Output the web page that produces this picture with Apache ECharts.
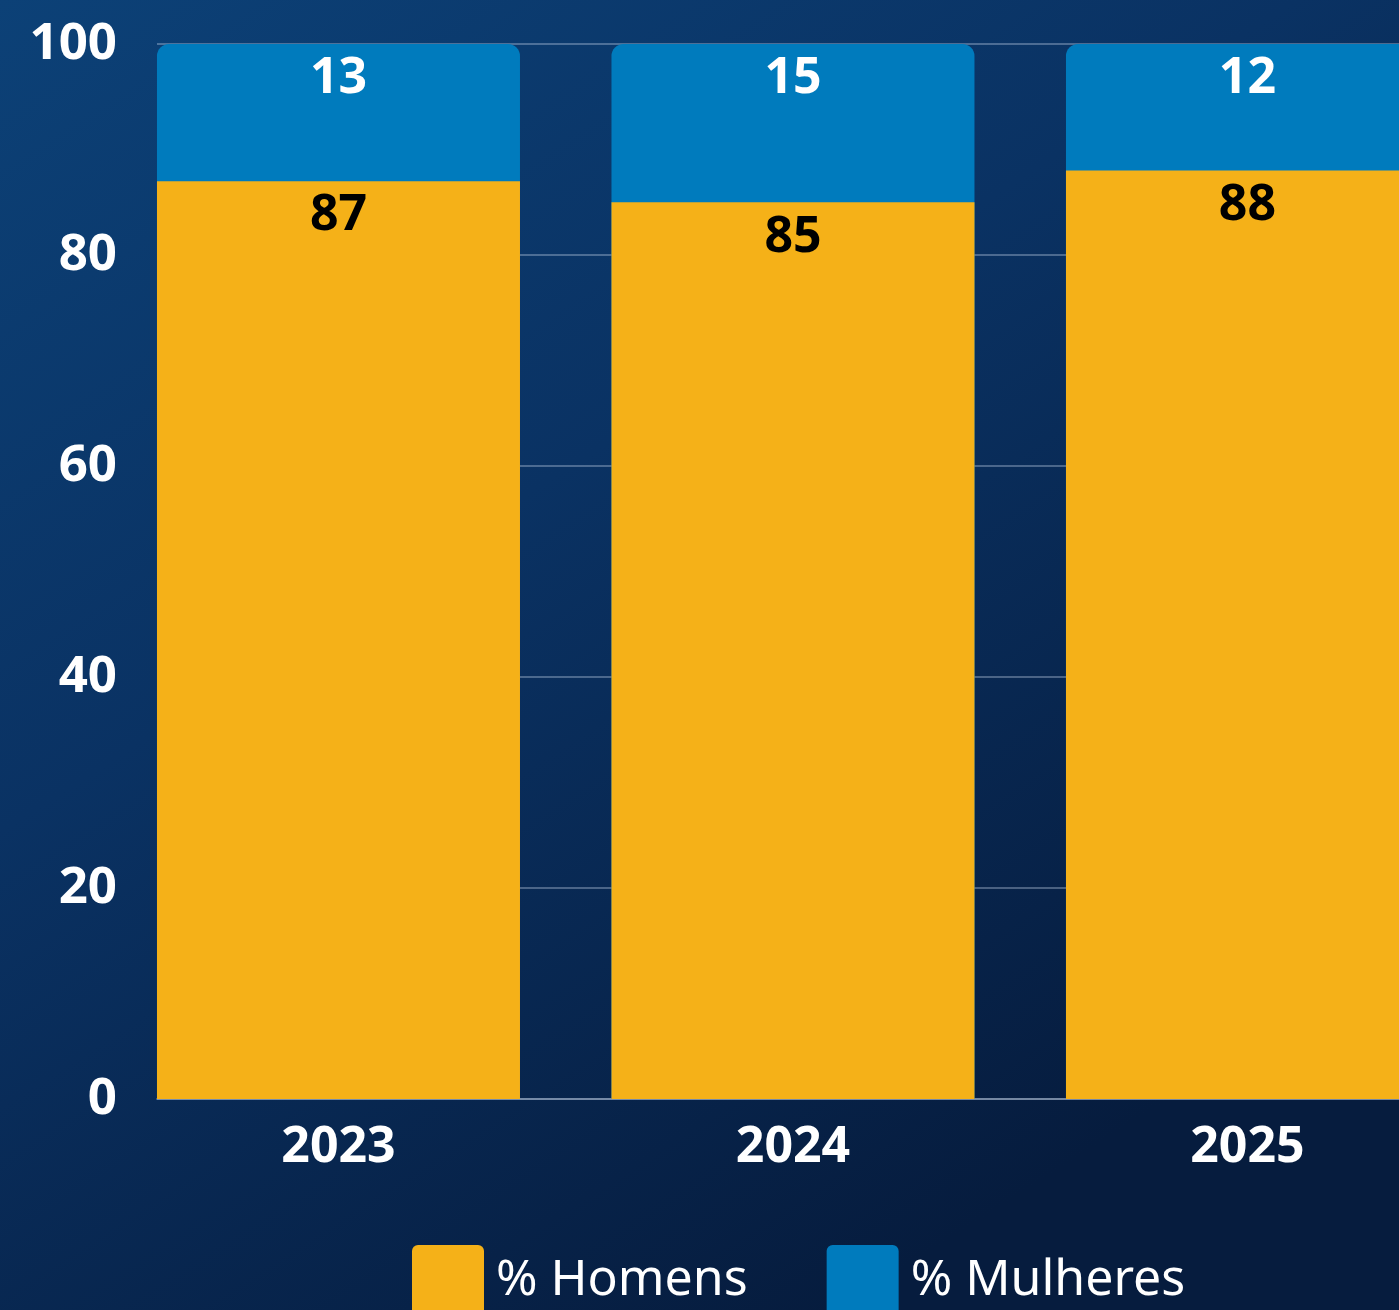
<!DOCTYPE html>
<html>
<head>
<meta charset="utf-8">
<script src="https://cdn.jsdelivr.net/npm/echarts@6/dist/echarts.min.js"></script>
<style>
  html, body { margin: 0; padding: 0; background: #0a2d58; }
  #main { width: 1399px; height: 1310px; }
</style>
</head>
<body>
<div id="main"></div>
<script>
var anos = ['2023', '2024', '2025'];
var homens = [87, 85, 88];
var mulheres = [13, 15, 12];
var nomes = ['% Homens', '% Mulheres'];

var myChart = echarts.init(document.getElementById('main'));

// cada barra fica no índice do ano; a parte azul vai do topo dos homens até o total
var pontosHomens = homens.map(function (v, i) { return [i, v]; });
var pontosTotal = mulheres.map(function (v, i) { return [i, homens[i] + v, v]; });

var fonte = '"Noto Sans", "Open Sans", sans-serif';
var gridCor = 'rgba(200,215,235,0.35)';

option = {
  backgroundColor: {
    type: 'linear', x: 0, y: 0, x2: 0.6, y2: 1,
    colorStops: [
      { offset: 0, color: '#0c4177' },
      { offset: 0.45, color: '#0a3263' },
      { offset: 1, color: '#061c3e' }
    ]
  },
  textStyle: { fontFamily: fonte },
  legend: {
    left: 412,
    top: 1245,
    padding: 0,
    itemWidth: 72,
    itemHeight: 72,
    itemGap: 79,
    icon: 'path://M6,0H66A6,6,0,0,1,72,6V72H0V6A6,6,0,0,1,6,0Z',
    data: nomes,
    textStyle: {
      color: '#ffffff',
      fontSize: 50,
      fontFamily: fonte,
      padding: [0, 0, 8, 7]
    }
  },
  grid: { left: 157, right: 0, top: 44, bottom: 211 },
  xAxis: {
    type: 'value',
    min: -0.3993,
    max: 2.3334,
    splitLine: { show: false },
    axisTick: { show: false },
    axisLine: { show: true, lineStyle: { color: gridCor, width: 2 } },
    axisLabel: {
      customValues: [0, 1, 2],
      color: '#ffffff',
      fontSize: 50,
      fontWeight: 'bold',
      fontFamily: fonte,
      margin: 24,
      formatter: function (v) { return anos[Math.round(v)]; }
    }
  },
  yAxis: {
    type: 'value',
    min: 0,
    max: 100,
    interval: 20,
    axisLine: { show: false },
    axisTick: { show: false },
    splitLine: { lineStyle: { color: gridCor, width: 2 } },
    axisLabel: {
      color: '#ffffff',
      fontSize: 51,
      fontWeight: 'bold',
      fontFamily: fonte,
      margin: 40
    }
  },
  series: [
    {
      name: nomes[1],
      type: 'bar',
      barWidth: 363,
      barGap: '-100%',
      z: 2,
      data: pontosTotal,
      itemStyle: { color: '#007bbd', borderRadius: [12, 12, 0, 0] },
      label: {
        show: true,
        position: 'insideTop',
        distance: 10,
        color: '#ffffff',
        fontSize: 50,
        fontWeight: 'bold',
        fontFamily: fonte,
        formatter: function (p) { return p.value[2]; }
      }
    },
    {
      name: nomes[0],
      type: 'bar',
      barWidth: 363,
      barGap: '-100%',
      z: 3,
      data: pontosHomens,
      itemStyle: { color: '#f5b118' },
      label: {
        show: true,
        position: 'insideTop',
        distance: 10,
        color: '#000000',
        fontSize: 50,
        fontWeight: 'bold',
        fontFamily: fonte,
        formatter: function (p) { return p.value[1]; }
      }
    }
  ]
};

myChart.setOption(option);
</script>
</body>
</html>
